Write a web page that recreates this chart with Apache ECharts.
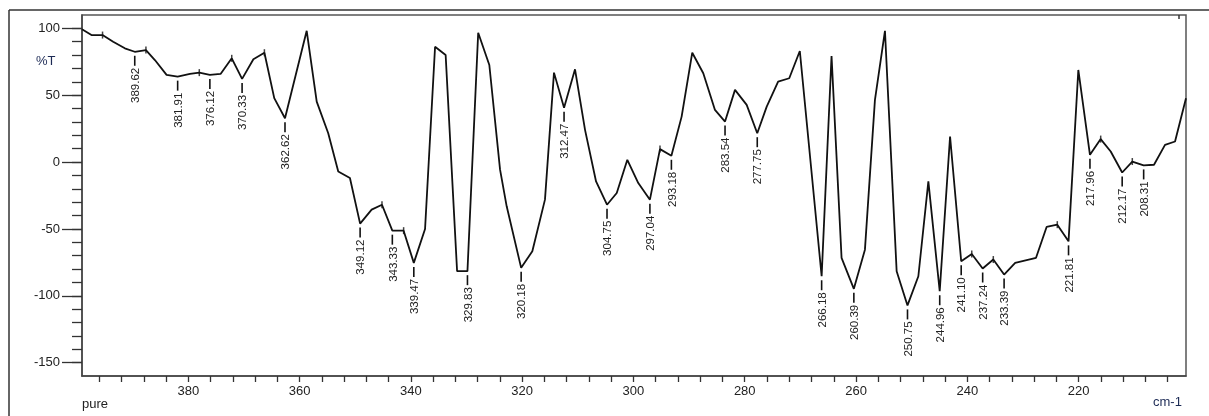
<!DOCTYPE html>
<html><head><meta charset="utf-8">
<script src="https://cdn.jsdelivr.net/npm/echarts@6/dist/echarts.min.js"></script>
<style>html,body{margin:0;padding:0;background:#fff}#c{width:1209px;height:416px}</style>
</head><body><div id="c"></div>
<script>
const wavenumber = [399.1, 397.4, 395.41, 393.5, 391.4, 389.62, 387.61, 386.0, 383.9, 381.91,
  379.7, 378.02, 376.12, 374.2, 372.19, 370.33, 368.3, 366.32, 364.55, 362.62,
  358.72, 356.92, 354.85, 353.05, 350.95, 349.12, 347.05, 345.19, 343.33, 341.3,
  339.47, 337.45, 335.65, 333.75, 331.69, 329.83, 327.9, 325.9, 323.97, 322.78,
  320.18, 318.17, 315.9, 314.28, 312.47, 310.5, 308.7, 306.72, 304.75, 303.0,
  301.1, 299.13, 297.04, 295.23, 293.18, 291.34, 289.43, 287.45, 285.35, 283.54,
  281.75, 279.65, 277.75, 276.05, 274.0, 272.0, 270.1, 266.18, 264.4, 262.6,
  260.39, 258.4, 256.6, 254.8, 252.7, 250.75, 248.8, 247.0, 244.96, 243.1,
  241.10, 239.2, 237.24, 235.33, 233.39, 231.4, 227.65, 225.75, 223.83, 221.81,
  220.05, 217.96, 216.03, 214.23, 212.17, 210.35, 208.31, 206.45, 204.47, 202.67, 200.7];
const transmittance = [99.3, 95.0, 95.0, 90.0, 85.1, 82.5, 83.8, 76.3, 65.2, 63.9,
  65.9, 66.9, 65.2, 65.9, 77.6, 62.2, 76.9, 81.8, 47.8, 32.8,
  98.2, 45.2, 21.6, -7.0, -11.9, -46.0, -35.6, -31.9, -51.3, -51.3,
  -75.4, -50.0, 86.3, 80.1, -81.6, -81.6, 96.7, 72.6, -5.7, -33.1,
  -79.1, -66.7, -28.1, 66.9, 40.7, 69.4, 24.1, -14.5, -31.9, -23.1,
  1.7, -15.7, -28.1, 9.7, 4.7, 34.0, 81.8, 66.4, 39.0, 30.3,
  54.0, 42.8, 21.6, 41.5, 60.2, 62.7, 83.1, -85.4, 79.3, -71.6,
  -94.8, -65.5, 46.5, 98.2, -81.6, -107.2, -85.4, -14.5, -96.6, 19.1,
  -74.2, -68.7, -79.6, -72.9, -84.1, -75.4, -71.6, -48.5, -46.8, -59.3,
  68.9, 5.4, 17.2, 7.9, -7.8, 0.4, -2.5, -2.0, 12.9, 15.4, 47.8];

const peakWave = [389.62, 381.91, 376.12, 370.33, 362.62, 349.12, 343.33, 339.47, 329.83, 320.18,
  312.47, 304.75, 297.04, 293.18, 283.54, 277.75, 266.18, 260.39, 250.75, 244.96,
  241.10, 237.24, 233.39, 221.81, 217.96, 212.17, 208.31];
const peakValue = [82.5, 63.9, 65.2, 62.2, 32.8, -46.0, -51.3, -75.4, -81.6, -79.1,
  40.7, -31.9, -28.1, 4.7, 30.3, 21.6, -85.4, -94.8, -107.2, -96.6,
  -74.2, -79.6, -84.1, -59.3, 5.4, -7.8, -2.5];
const peakLabel = ['389.62', '381.91', '376.12', '370.33', '362.62', '349.12', '343.33', '339.47', '329.83', '320.18',
  '312.47', '304.75', '297.04', '293.18', '283.54', '277.75', '266.18', '260.39', '250.75', '244.96',
  '241.10', '237.24', '233.39', '221.81', '217.96', '212.17', '208.31'];

const markerWave = [395.41, 387.61, 378.02, 372.19, 366.32, 345.19, 341.3, 295.23, 239.2, 235.33, 223.83, 216.03, 210.35];
const markerValue = [95.0, 83.8, 66.9, 77.6, 81.8, -31.9, -51.3, 9.7, -68.7, -72.9, -46.8, 17.2, 0.4];

const xLabelValues = [380, 360, 340, 320, 300, 280, 260, 240, 220];
const xTickValues = [396, 392, 388, 384, 380, 376, 372, 368, 364, 360, 356, 352, 348, 344, 340, 336, 332, 328, 324, 320,
  316, 312, 308, 304, 300, 296, 292, 288, 284, 280, 276, 272, 268, 264, 260, 256, 252, 248, 244, 240,
  236, 232, 228, 224, 220, 216, 212, 208, 204];
const yLabelValues = [-150, -100, -50, 0, 50, 100];
const yTickValues = [-150, -140, -130, -120, -110, -100, -90, -80, -70, -60, -50, -40, -30, -20, -10,
  0, 10, 20, 30, 40, 50, 60, 70, 80, 90, 100];

const FONT = '"Liberation Sans", Arial, sans-serif';
const chart = echarts.init(document.getElementById('c'), null, {renderer: 'canvas'});
const lineData = wavenumber.map((w, i) => [w, transmittance[i]]);
const markerData = markerWave.map((w, i) => [w, markerValue[i]]);
const peakData = peakWave.map((w, i) => [w, peakValue[i]]);

const yBase = {
  type: 'value', min: -160, max: 110, position: 'left',
  splitLine: {show: false}
};
chart.setOption({
  animation: false,
  backgroundColor: '#fff',
  grid: {left: 82, top: 15, right: 23, bottom: 40, show: true, borderColor: '#555', borderWidth: 1.5,
    containLabel: false, outerBoundsMode: 'none'},
  xAxis: {
    type: 'value', min: 200.7, max: 399.1, inverse: true,
    axisLine: {onZero: false, lineStyle: {color: '#444', width: 1.5}},
    axisTick: {customValues: xTickValues, length: 6, lineStyle: {color: '#333', width: 1.3}},
    axisLabel: {customValues: xLabelValues, margin: 9, fontSize: 13, fontFamily: FONT, color: '#222'},
    splitLine: {show: false}
  },
  yAxis: [
    Object.assign({}, yBase, {
      axisLine: {show: true, onZero: false, lineStyle: {color: '#444', width: 1.5}},
      axisTick: {show: true, customValues: yLabelValues, length: 20, lineStyle: {color: '#333', width: 1.3}},
      axisLabel: {customValues: yLabelValues, margin: 22, fontSize: 13, fontFamily: FONT, color: '#222'}
    }),
    Object.assign({}, yBase, {
      axisLine: {show: false, onZero: false},
      axisTick: {show: true, customValues: yTickValues, length: 10, lineStyle: {color: '#333', width: 1.3}},
      axisLabel: {show: false}
    })
  ],
  series: [
    {type: 'line', data: lineData, symbol: 'none', yAxisIndex: 0,
      lineStyle: {color: '#111', width: 1.8}, z: 3},
    {type: 'scatter', data: markerData, yAxisIndex: 0, symbol: 'rect', symbolSize: [1.5, 7],
      itemStyle: {color: '#111'}, z: 4},
    {type: 'custom', data: peakData, yAxisIndex: 0, z: 5,
      renderItem: function (params, api) {
        const p = api.coord([api.value(0), api.value(1)]);
        return {type: 'group', children: [
          {type: 'line', shape: {x1: p[0], y1: p[1] + 4, x2: p[0], y2: p[1] + 14},
            style: {stroke: '#111', lineWidth: 1.6}},
          {type: 'text', x: p[0] + 1, y: p[1] + 16, rotation: Math.PI / 2,
            style: {text: peakLabel[params.dataIndex], align: 'right', verticalAlign: 'middle',
              font: '11.5px ' + FONT, fill: '#222'}}
        ]};
      }}
  ],
  graphic: [
    {type: 'line', shape: {x1: 9, y1: 10, x2: 1209, y2: 10}, style: {stroke: '#333', lineWidth: 1.5}},
    {type: 'line', shape: {x1: 9, y1: 10, x2: 9, y2: 416}, style: {stroke: '#333', lineWidth: 1.5}},
    {type: 'line', shape: {x1: 1179, y1: 15, x2: 1179, y2: 19}, style: {stroke: '#333', lineWidth: 1.5}},
    {type: 'text', left: 36, top: 55, style: {text: '%T', font: '13px ' + FONT, fill: '#1c2a55'}},
    {type: 'text', left: 82, top: 398, style: {text: 'pure', font: '13px ' + FONT, fill: '#222'}},
    {type: 'text', left: 1153, top: 396, style: {text: 'cm-1', font: '13px ' + FONT, fill: '#1c2a55'}}
  ]
});
</script></body></html>
